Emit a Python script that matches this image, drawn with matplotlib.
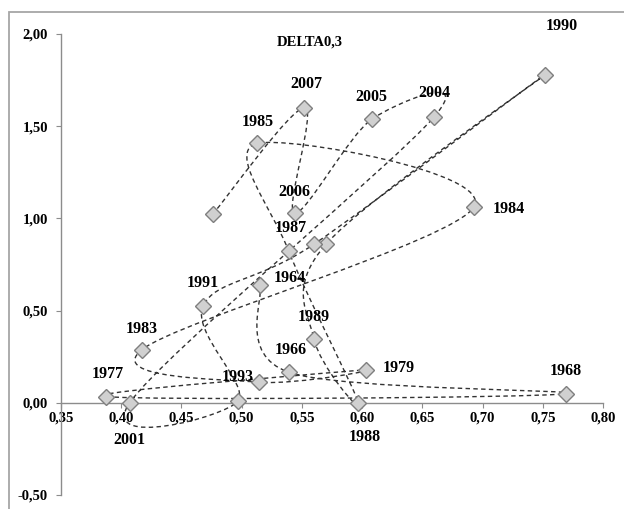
import matplotlib
matplotlib.use("Agg")
import matplotlib.pyplot as plt
import matplotlib.patches as mpatches
from matplotlib.path import Path
import numpy as np

# Series in plotting order (empty label = point shown without a year)
years = ["1964", "1966", "1968", "1977", "1979", "", "1983", "1984", "1985",
         "1987", "1988", "1989", "", "1990", "", "1991", "1993", "2001",
         "2004", "2005", "2006", "2007", ""]
x_vals = [0.515, 0.539, 0.769, 0.387, 0.603, 0.514, 0.417, 0.693, 0.513,
          0.539, 0.597, 0.560, 0.570, 0.752, 0.560, 0.468, 0.497, 0.407,
          0.660, 0.608, 0.544, 0.552, 0.476]
y_vals = [0.640, 0.166, 0.049, 0.034, 0.179, 0.112, 0.287, 1.064, 1.407,
          0.824, 0.000, 0.347, 0.860, 1.780, 0.860, 0.526, 0.010, 0.000,
          1.552, 1.538, 1.028, 1.600, 1.023]

x_ticks = [0.35, 0.40, 0.45, 0.50, 0.55, 0.60, 0.65, 0.70, 0.75, 0.80]
y_ticks = [-0.50, 0.00, 0.50, 1.00, 1.50, 2.00]
x_tick_labels = ["0,35", "0,40", "0,45", "0,50", "0,55", "0,60", "0,65", "0,70", "0,75", "0,80"]
y_tick_labels = ["-0,50", "0,00", "0,50", "1,00", "1,50", "2,00"]

# label offsets from each marker, in pixels (dx right, dy up)
label_offsets = [(30, 7), (2, 22), (0, 23), (2, 23), (33, 2), (0, 0), (0, 21),
                 (35, -2), (0, 21), (2, 23), (6, -34), (0, 22), (0, 0),
                 (17, 49), (0, 0), (0, 23), (0, 24), (0, -37), (0, 24),
                 (0, 22), (0, 21), (2, 24), (0, 0)]

SERIF = "Liberation Serif"
W, H = 624, 509


def smooth_path(xs, ys):
    """Catmull-Rom style bezier through all points (like a smoothed scatter line)."""
    pts = np.column_stack([xs, ys])
    ext = np.vstack([pts[0], pts, pts[-1]])
    verts = [pts[0]]
    codes = [Path.MOVETO]
    for i in range(len(pts) - 1):
        p0, p1, p2, p3 = ext[i], ext[i + 1], ext[i + 2], ext[i + 3]
        c1 = p1 + (p2 - p0) / 6.0
        c2 = p2 - (p3 - p1) / 6.0
        verts += [c1, c2, p2]
        codes += [Path.CURVE4] * 3
    return Path(verts, codes)


fig = plt.figure(figsize=(W / 100, H / 100), dpi=100)
ax = fig.add_axes([61 / W, 1 - 495 / H, 542 / W, 461 / H])
ax.set_xlim(0.35, 0.80)
ax.set_ylim(-0.50, 2.00)

# outer chart frame
frame = mpatches.Rectangle((9 / W, -0.2), 1.2, 1.2 - 12 / H,
                           transform=fig.transFigure, fill=False,
                           edgecolor="#a6a6a6", linewidth=1.3, clip_on=False)
fig.add_artist(frame)

line = mpatches.PathPatch(smooth_path(x_vals, y_vals), fill=False,
                          edgecolor="#333333", linewidth=1.0,
                          linestyle=(0, (3.2, 2.4)), zorder=2)
ax.add_patch(line)

ax.plot(x_vals, y_vals, linestyle="none", marker="D", markersize=7.8,
        markerfacecolor="#d0d0d0", markeredgecolor="#7f7f7f",
        markeredgewidth=1.0, zorder=3)

for yr, xv, yv, (dx, dy) in zip(years, x_vals, y_vals, label_offsets):
    if not yr:
        continue
    ax.annotate(yr, (xv, yv), xytext=(dx * 0.72, dy * 0.72),
                textcoords="offset points", ha="center", va="center",
                fontsize=11.5, fontweight="bold", family=SERIF, zorder=4)

# axes styling: x axis crosses at y = 0
for side in ("top", "right"):
    ax.spines[side].set_visible(False)
ax.spines["bottom"].set_position(("data", 0))
for side in ("left", "bottom"):
    ax.spines[side].set_color("#8c8c8c")
    ax.spines[side].set_linewidth(1.0)

ax.set_xticks(x_ticks)
ax.set_xticklabels(x_tick_labels)
ax.set_yticks(y_ticks)
ax.set_yticklabels(y_tick_labels)
ax.tick_params(axis="both", direction="out", length=3.5, color="#8c8c8c",
               labelsize=10.5)
ax.tick_params(axis="x", pad=3)
ax.tick_params(axis="y", pad=6)
for lbl in ax.get_xticklabels() + ax.get_yticklabels():
    lbl.set_family(SERIF)
    lbl.set_fontweight("bold")

fig.text(310 / W, 1 - 42 / H, "DELTA0,3", ha="center", va="center",
         fontsize=10.5, fontweight="bold", family=SERIF)

fig.savefig("out.png", dpi=100)
